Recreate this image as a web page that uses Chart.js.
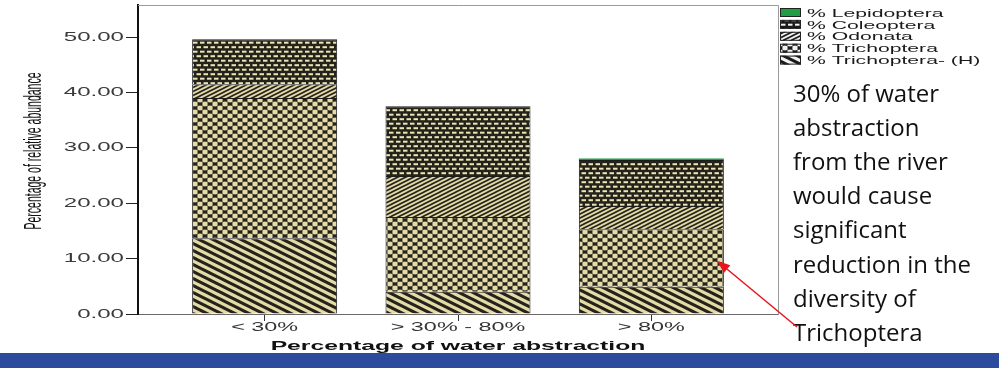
<!DOCTYPE html>
<html>
<head>
<meta charset="utf-8">
<script src="https://cdn.jsdelivr.net/npm/chart.js@4.4.1/dist/chart.umd.min.js"></script>
<style>
  html, body { margin: 0; padding: 0; background: #fff; }
  #wrap { width: 999px; height: 368px; }
</style>
</head>
<body>
<div id="wrap"><canvas id="myChart" width="999" height="368"></canvas></div>
<script>
const categories = ["< 30%", "> 30% - 80%", "> 80%"];

// stacked bottom to top, % of relative abundance
const trichopteraH = [13.7, 4.0, 4.9];
const trichoptera = [25.3, 13.5, 10.4];
const odonata = [2.5, 7.4, 4.2];
const coleoptera = [8.1, 12.6, 8.3];
const lepidoptera = [0, 0, 0.3];

const yTicks = [0, 10, 20, 30, 40, 50];
const yMax = 55.8;

const noteLines = ["30% of water", "abstraction", "from the river", "would cause",
  "significant", "reduction in the", "diversity of", "Trichoptera"];
const arrowTarget = { x: 2.34, y: 9.6 }; // in data units, bar "> 80%"

const ctx = document.getElementById("myChart");

function makePattern(w, h, draw) {
  const c = document.createElement("canvas");
  c.width = w;
  c.height = h;
  const g = c.getContext("2d");
  draw(g, w, h);
  return g.createPattern(c, "repeat");
}

function makePatterns(light, dark, dash) {
  const p = {};
  // backslash hatching, wide
  p.h = makePattern(14, 7, (g, w, h) => {
    g.fillStyle = light; g.fillRect(0, 0, w, h);
    g.strokeStyle = dark; g.lineWidth = 3;
    for (let k = -1; k <= 1; k++) {
      g.beginPath(); g.moveTo(-w, k * h - h); g.lineTo(2 * w, k * h + 2 * h); g.stroke();
    }
  });
  // slash hatching, dense
  p.odo = makePattern(8, 4, (g, w, h) => {
    g.fillStyle = light; g.fillRect(0, 0, w, h);
    g.strokeStyle = dark; g.lineWidth = 1.6;
    for (let k = -1; k <= 1; k++) {
      g.beginPath(); g.moveTo(-w, k * h + 2 * h); g.lineTo(2 * w, k * h - h); g.stroke();
    }
  });
  // lattice with dark knots
  p.tri = makePattern(10, 8, (g, w, h) => {
    g.fillStyle = light; g.fillRect(0, 0, w, h);
    g.strokeStyle = dark; g.lineWidth = 1;
    g.beginPath();
    g.moveTo(0, 0); g.lineTo(w, h);
    g.moveTo(w, 0); g.lineTo(0, h);
    g.stroke();
    g.fillStyle = dark;
    [[0, 0], [w, 0], [0, h], [w, h], [w / 2, h / 2]].forEach(([x, y]) => {
      g.beginPath(); g.ellipse(x, y, 2.7, 1.7, 0, 0, Math.PI * 2); g.fill();
    });
  });
  // dark with staggered light dashes
  p.col = makePattern(7, 9, (g, w, h) => {
    g.fillStyle = dark; g.fillRect(0, 0, w, h);
    g.fillStyle = dash;
    g.fillRect(0.5, 1.2, 4.5, 2);
    g.fillRect(4, 5.7, 4.5, 2);
    g.fillRect(-3, 5.7, 4.5, 2);
  });
  return p;
}

const pat = makePatterns("#e4dba8", "#24221a", "#e9e5b4");
const legPat = makePatterns("#f2f2f2", "#1a1a1a", "#f2f2f2");

const series = [
  { label: "% Trichoptera- (H)", values: trichopteraH, fill: pat.h, leg: legPat.h },
  { label: "% Trichoptera", values: trichoptera, fill: pat.tri, leg: legPat.tri },
  { label: "% Odonata", values: odonata, fill: pat.odo, leg: legPat.odo },
  { label: "% Coleoptera", values: coleoptera, fill: pat.col, leg: legPat.col },
  { label: "% Lepidoptera", values: lepidoptera, fill: "#1f9e46", leg: "#1f9e46" },
];

function stretchText(c, text, x, y, sx, font, align, color) {
  c.save();
  c.translate(x, y);
  c.scale(sx, 1);
  c.font = font;
  c.fillStyle = color;
  c.textAlign = align;
  c.textBaseline = "middle";
  c.fillText(text, 0, 0);
  c.restore();
}

const decor = {
  id: "decor",
  beforeDraw(chart) {
    const c = chart.ctx;
    c.save();
    c.fillStyle = "#fff";
    c.fillRect(0, 0, chart.width, chart.height);
    c.fillStyle = "#2c4b9c";
    c.fillRect(0, 353, chart.width, chart.height - 353);
    c.restore();
  },
  afterDraw(chart) {
    const c = chart.ctx;
    const a = chart.chartArea;
    const xs = chart.scales.x;
    const ys = chart.scales.y;

    // frame top / right
    c.save();
    c.strokeStyle = "#9a9a9a";
    c.lineWidth = 1;
    c.beginPath();
    c.moveTo(a.left, a.top + 0.5); c.lineTo(a.right + 0.5, a.top + 0.5);
    c.lineTo(a.right + 0.5, a.bottom + 1);
    c.stroke();
    c.restore();

    // tick labels
    ys.ticks.forEach(t => {
      stretchText(c, t.value.toFixed(2), a.left - 14, ys.getPixelForValue(t.value), 1.85,
        '13px "Liberation Sans", Arial, sans-serif', "right", "#3a3a3a");
    });
    categories.forEach((name, i) => {
      stretchText(c, name, xs.getPixelForValue(i), 327.5, 1.8,
        '13px "Liberation Sans", Arial, sans-serif', "center", "#333");
    });

    // axis titles
    stretchText(c, "Percentage of water abstraction", xs.getPixelForValue(1), 346.5, 1.9,
      'bold 13px "Liberation Sans", Arial, sans-serif', "center", "#111");
    c.save();
    c.translate(35, 151);
    c.scale(2.2, 1);
    c.rotate(-Math.PI / 2);
    c.font = '10.5px "Liberation Sans", Arial, sans-serif';
    c.fillStyle = "#111";
    c.textAlign = "center";
    c.textBaseline = "middle";
    c.fillText("Percentage of relative abundance", 0, 0);
    c.restore();

    // legend (top of stack first)
    const items = series.slice().reverse();
    items.forEach((s, i) => {
      const yc = 12.5 + 11.9 * i;
      c.save();
      c.fillStyle = s.leg;
      c.fillRect(780, yc - 4.5, 21, 9);
      c.strokeStyle = "#222";
      c.lineWidth = 1;
      c.strokeRect(780.5, yc - 4, 20, 8);
      c.restore();
      stretchText(c, s.label, 807, yc + 1, 1.84,
        '11.5px "Liberation Sans", Arial, sans-serif', "left", "#1a1a1a");
    });

    // note text
    c.save();
    c.font = '24px "Open Sans", sans-serif';
    c.fillStyle = "#111";
    c.textAlign = "left";
    c.textBaseline = "alphabetic";
    noteLines.forEach((line, i) => c.fillText(line, 793, 101.5 + 34.2 * i));
    c.restore();

    // red arrow
    const tx = xs.getPixelForValue(arrowTarget.x);
    const ty = ys.getPixelForValue(arrowTarget.y);
    const fx = 797, fy = 327;
    const ang = Math.atan2(ty - fy, tx - fx);
    c.save();
    c.strokeStyle = "#e8141c";
    c.fillStyle = "#e8141c";
    c.lineWidth = 1.5;
    c.beginPath();
    c.moveTo(fx, fy);
    c.lineTo(tx - 10 * Math.cos(ang), ty - 10 * Math.sin(ang));
    c.stroke();
    c.beginPath();
    c.moveTo(tx, ty);
    c.lineTo(tx - 13 * Math.cos(ang) + 5 * Math.sin(ang), ty - 13 * Math.sin(ang) - 5 * Math.cos(ang));
    c.lineTo(tx - 13 * Math.cos(ang) - 5 * Math.sin(ang), ty - 13 * Math.sin(ang) + 5 * Math.cos(ang));
    c.closePath();
    c.fill();
    c.restore();
  },
};

const chart = new Chart(ctx, {
  type: "bar",
  data: {
    datasets: series.map(s => ({
      label: s.label,
      data: s.values.map((v, i) => ({ x: i, y: v })),
      backgroundColor: s.fill,
      borderColor: "#1c1c1c",
      borderWidth: s.label === "% Lepidoptera" ? 0 : 1,
    })),
  },
  options: {
    responsive: false,
    animation: false,
    layout: { padding: { left: 0, top: 5, right: 221, bottom: 0 } },
    plugins: {
      legend: { display: false },
      tooltip: { enabled: false },
    },
    datasets: {
      bar: { barPercentage: 0.75, categoryPercentage: 1 },
    },
    scales: {
      x: {
        type: "linear",
        stacked: true,
        offset: false,
        min: -0.655,
        max: 2.655,
        afterBuildTicks: s => { s.ticks = categories.map((c, i) => ({ value: i })); },
        afterFit: s => { s.height = 54; },
        ticks: { display: false },
        grid: { offset: false, drawOnChartArea: false, tickLength: 7, color: "#333" },
        border: { color: "#6a6a6a", width: 1 },
      },
      y: {
        stacked: true,
        min: 0,
        max: yMax,
        afterBuildTicks: s => { s.ticks = yTicks.map(v => ({ value: v })); },
        afterFit: s => { s.width = 138; },
        ticks: { display: false },
        grid: { drawOnChartArea: false, tickLength: 12, color: "#222" },
        border: { color: "#111", width: 2 },
      },
    },
  },
  plugins: [decor],
});
</script>
</body>
</html>
